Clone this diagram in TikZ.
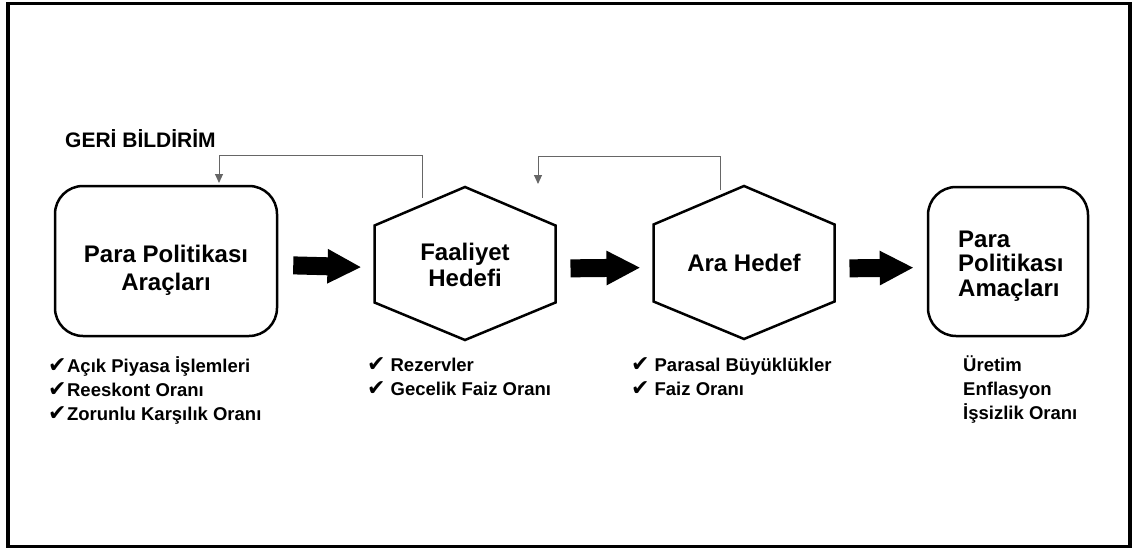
\documentclass[tikz,border=0pt]{standalone}
\usepackage{fontspec}
\setmainfont{Liberation Sans}
\newfontfamily\symfont{DejaVu Sans}
\usetikzlibrary{arrows.meta,calc,positioning}
\newcommand{\chk}{{\symfont\fontsize{22}{24}\selectfont ✔}}
% hexagon with pointed top, #1 name, #2 centre
\newcommand{\hexshape}[2]{%
  \coordinate (#1) at #2;
  \draw[hexline] ($(#1)+(0,-76.5)$) -- ($(#1)+(90.5,-38)$) -- ($(#1)+(90.5,39)$)
    -- ($(#1)+(0,76.5)$) -- ($(#1)+(-90.5,39)$) -- ($(#1)+(-90.5,-38)$) -- cycle;
  \coordinate (#1-w) at ($(#1)+(-90.5,0)$);
  \coordinate (#1-e) at ($(#1)+(90.5,0)$);
}

\tikzset{
  roundbox/.style={draw, line width=2.5pt, rounded corners=28pt, inner sep=0pt},
  hexline/.style={line width=2.5pt, line join=miter},
  maintext/.style={font=\bfseries\fontsize{24}{26}\selectfont, align=center, inner sep=0pt},
  listtext/.style={font=\bfseries\fontsize{18.5}{24}\selectfont, align=left, anchor=north west, inner sep=0pt},
  bigarrow/.style={line width=18pt, -{Triangle[length=34pt,width=32pt]}, shorten <=15pt, shorten >=13pt},
  backline/.style={draw=black!60, line width=1pt, -{Triangle[length=9pt,width=8pt]}},
}

\begin{document}
\begin{tikzpicture}[x=1pt,y=-1pt]
\useasboundingbox (0,0) rectangle (1134,551);
% frame
\draw[line width=3.5pt] (8,3.5) rectangle (1130,546.5);

% boxes and hexagons
\node[roundbox, minimum width=222pt, minimum height=150pt] (araclar) at (166,261) {};
\node[maintext, font=\bfseries\fontsize{24}{28}\selectfont] (araclarText) at (166,270) {Para Politikası\\Araçları};

\hexshape{faaliyet}{(465,263.5)}
\node[maintext] (faaliyetText) at (465,265) {Faaliyet\\Hedefi};

\hexshape{ara}{(744,262.5)}
\node[maintext] (araText) at (744,263) {Ara Hedef};

\node[roundbox, minimum width=160pt, minimum height=149pt] (amaclar) at (1008,261.5) {};
\node[maintext, align=left, anchor=west, font=\bfseries\fontsize{24}{24.5}\selectfont] (amaclarText) at (958,266) {Para\\Politikası\\Amaçları};

% thick arrows
\draw[bigarrow] ([yshift=-4pt]araclar.east) -- ([yshift=-4pt]faaliyet-w);
\draw[bigarrow] ([yshift=-5pt]faaliyet-e) -- ([yshift=-5pt]ara-w);
\draw[bigarrow] ([yshift=-6pt]ara-e) -- ([yshift=-6pt]amaclar.west);

% feedback
\node[font=\bfseries\fontsize{21}{24}\selectfont, anchor=west, inner sep=0pt] (geri) at (65,139) {GERİ BİLDİRİM};
\coordinate (fb1s) at (422,198);
\coordinate (fb1e) at (219,183);
\draw[backline] (fb1s) -- (fb1s |- 0,155) -| (fb1e);
\coordinate (fb2s) at (720,190);
\coordinate (fb2e) at (538,184);
\draw[backline] (fb2s) -- (fb2s |- 0,156) -| (fb2e);

% lists
\node[listtext] (araclarList) at (48,356) {\chk\hspace{0.5pt}Açık Piyasa İşlemleri\\\chk\hspace{0.5pt}Reeskont Oranı\\\chk\hspace{0.5pt}Zorunlu Karşılık Oranı};
\node[listtext] (faaliyetList) at (367,357) {\chk\hspace{5pt}Rezervler\\\chk\hspace{5pt}Gecelik Faiz Oranı};
\node[listtext] (araList) at (631,357) {\chk\hspace{5pt}Parasal Büyüklükler\\\chk\hspace{5pt}Faiz Oranı};
\node[listtext] (amaclarList) at (963,355) {Üretim\\Enflasyon\\İşsizlik Oranı};
\end{tikzpicture}
\end{document}
